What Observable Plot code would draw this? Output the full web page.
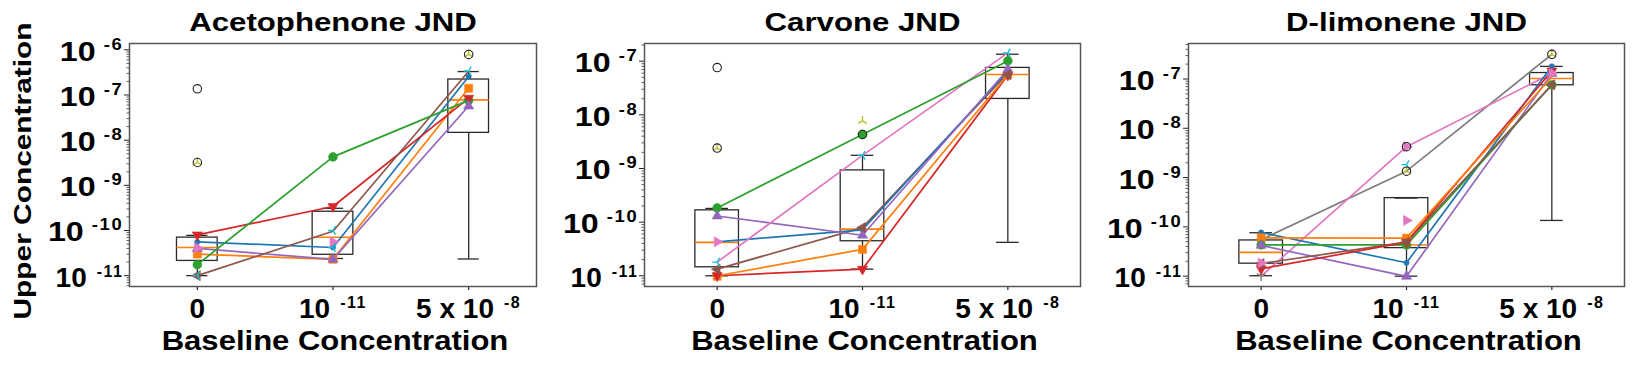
<!DOCTYPE html>
<html>
<head>
<meta charset="utf-8">
<script src="https://cdn.jsdelivr.net/npm/d3@7"></script>
<script src="https://cdn.jsdelivr.net/npm/@observablehq/plot@0.6"></script>
<style>
  body { margin: 0; background: #fff; }
  #chart { position: relative; width: 1638px; height: 370px; overflow: hidden; background: #fff; }
  #chart svg { position: absolute; top: 0; }
</style>
</head>
<body>
<div id="chart"></div>
<script>
// ---------- data ----------
const categories = [0, 1, 2];
const categoryLabels = ["0", "10^-11", "5 x 10^-8"];
const panelTitles = ["Acetophenone JND", "Carvone JND", "D-limonene JND"];
const xLabel = "Baseline Concentration";
const yLabel = "Upper Concentration";
const seriesKeys = ["S1", "S2", "S3", "S4", "S5", "S6", "S7", "S8", "S9", "S10"];

// lines: [series, value at 0, value at 1e-11, value at 5e-8]
const acetoLines = [
  ["S1", 5.6e-11, 4.2e-11, 2.57e-7],
  ["S2", 3.0e-11, 2.3e-11, 1.41e-7],
  ["S5", 4.0e-11, 2.3e-11, 5.7e-8],
  ["S4", 8.0e-11, 3.4e-10, 8.5e-8],
  ["S6", 1.0e-11, 9.6e-11, 3.36e-7],
  ["S3", 1.75e-11, 4.26e-9, 7.6e-8]
];
const carvoneLines = [
  ["S4", 1.0e-11, 1.33e-11, 5.5e-8],
  ["S2", 1.0e-11, 3.1e-11, 5.6e-8],
  ["S6", 1.33e-11, 7.9e-11, 6.0e-8],
  ["S1", 4.3e-11, 7.2e-11, 6.5e-8],
  ["S5", 1.3e-10, 5.7e-11, 7.0e-8],
  ["S7", 1.8e-11, 1.76e-9, 1.43e-7],
  ["S3", 1.84e-10, 4.3e-9, 1.01e-7]
];
const limoneneLines = [
  ["S8", 5.5e-11, 1.35e-9, 3.17e-7],
  ["S7", 1.0e-11, 4.24e-9, 1.3e-7],
  ["S1", 7.7e-11, 1.87e-11, 1.81e-7],
  ["S5", 4.2e-11, 9.9e-12, 1.29e-7],
  ["S3", 4.3e-11, 4.3e-11, 7.6e-8],
  ["S6", 1.8e-11, 4.9e-11, 7.6e-8],
  ["S4", 1.41e-11, 4.9e-11, 1.45e-7],
  ["S2", 6.0e-11, 5.9e-11, 1.1e-7]
];

// markers: [series, category index, value]
const acetoMarkers = [
  ["S4", 0, 8.0e-11], ["S1", 0, 5.6e-11], ["S5", 0, 4.0e-11], ["S7", 0, 4.1e-11],
  ["S2", 0, 3.0e-11], ["S3", 0, 1.75e-11], ["S6", 0, 1.0e-11], ["S10", 0, 1.0e-11],
  ["S9", 0, 3.2e-9],
  ["S3", 1, 4.26e-9], ["S4", 1, 3.4e-10], ["S10", 1, 1.0e-10], ["S7", 1, 5.6e-11],
  ["S1", 1, 4.2e-11], ["S10", 1, 4.2e-11], ["S2", 1, 2.3e-11], ["S5", 1, 2.3e-11],
  ["S10", 2, 3.4e-7], ["S1", 2, 2.57e-7], ["S2", 2, 1.41e-7], ["S4", 2, 8.5e-8],
  ["S3", 2, 7.6e-8], ["S5", 2, 5.7e-8], ["S9", 2, 7.9e-7]
];
const carvoneMarkers = [
  ["S3", 0, 1.84e-10], ["S5", 0, 1.3e-10], ["S7", 0, 4.3e-11], ["S10", 0, 1.8e-11],
  ["S6", 0, 1.33e-11], ["S4", 0, 1.0e-11], ["S2", 0, 9.8e-12], ["S9", 0, 2.4e-9],
  ["S9", 1, 7.7e-9], ["S3", 1, 4.3e-9], ["S10", 1, 1.76e-9], ["S6", 1, 7.9e-11],
  ["S1", 1, 7.2e-11], ["S5", 1, 5.7e-11], ["S2", 1, 3.1e-11], ["S4", 1, 1.33e-11],
  ["S10", 2, 1.43e-7], ["S3", 2, 1.01e-7], ["S5", 2, 7.0e-8], ["S1", 2, 6.5e-8],
  ["S4", 2, 5.5e-8], ["S2", 2, 5.6e-8], ["S6", 2, 5.6e-8]
];
const limoneneMarkers = [
  ["S1", 0, 7.7e-11], ["S2", 0, 6.0e-11], ["S3", 0, 4.3e-11], ["S5", 0, 4.2e-11],
  ["S7", 0, 1.85e-11], ["S6", 0, 1.8e-11], ["S4", 0, 1.41e-11], ["S8", 0, 1.0e-11],
  ["S7", 1, 4.24e-9], ["S10", 1, 1.83e-9], ["S9", 1, 1.35e-9], ["S7", 1, 1.35e-10],
  ["S2", 1, 5.9e-11], ["S4", 1, 4.9e-11], ["S6", 1, 4.9e-11], ["S3", 1, 4.3e-11],
  ["S1", 1, 1.87e-11], ["S5", 1, 9.9e-12],
  ["S9", 2, 3.17e-7], ["S1", 2, 1.81e-7], ["S4", 2, 1.45e-7], ["S5", 2, 1.29e-7],
  ["S7", 2, 1.3e-7], ["S3", 2, 7.6e-8], ["S6", 2, 7.6e-8]
];

// box summaries: [category index, lower whisker, q1, median, q3, upper whisker]
const acetoBoxes = [
  [0, 1.0e-11, 2.12e-11, 4.2e-11, 6.95e-11, 7.8e-11],
  [1, 2.4e-11, 2.9e-11, 7.1e-11, 2.6e-10, 3.1e-10],
  [2, 2.34e-11, 1.45e-8, 7.8e-8, 2.2e-7, 3.3e-7]
];
const carvoneBoxes = [
  [0, 1.0e-11, 1.44e-11, 4.2e-11, 1.66e-10, 1.8e-10],
  [1, 1.33e-11, 4.4e-11, 7.4e-11, 9.2e-10, 1.76e-9],
  [2, 4.2e-11, 1.98e-8, 5.65e-8, 7.5e-8, 1.35e-7]
];
const limoneneBoxes = [
  [0, 1.02e-11, 1.79e-11, 3.03e-11, 5.3e-11, 7.6e-11],
  [1, 1.0e-11, 3.7e-11, 4.3e-11, 3.83e-10, 3.83e-10],
  [2, 1.35e-10, 7.45e-8, 1.02e-7, 1.32e-7, 1.8e-7]
];

// outliers: [category index, value]
const acetoFliers = [[0, 1.37e-7], [0, 3.2e-9], [2, 7.9e-7]];
const carvoneFliers = [[0, 7.6e-8], [0, 2.4e-9], [1, 4.3e-9]];
const limoneneFliers = [[1, 4.24e-9], [1, 1.35e-9], [2, 3.17e-7]];

// y ticks (decades)
const acetoYTicks = [1e-6, 1e-7, 1e-8, 1e-9, 1e-10, 1e-11];
const carvoneYTicks = [1e-7, 1e-8, 1e-9, 1e-10, 1e-11];
const limoneneYTicks = [1e-7, 1e-8, 1e-9, 1e-10, 1e-11];

// ---------- styles ----------
const palette = {
  S1: "#1f77b4", S2: "#ff7f0e", S3: "#2ca02c", S4: "#d62728", S5: "#9467bd",
  S6: "#8c564b", S7: "#e377c2", S8: "#7f7f7f", S9: "#bcbd22", S10: "#17becf"
};
function poly(angles, k) {
  return { draw(ctx, size) {
    const R = Math.sqrt(size / Math.PI) * k;
    angles.forEach((a, j) => {
      const x = R * Math.sin(a * Math.PI / 180), y = -R * Math.cos(a * Math.PI / 180);
      if (j) ctx.lineTo(x, y); else ctx.moveTo(x, y);
    });
    ctx.closePath();
  }};
}
function spokes(angles, k) {
  return { draw(ctx, size) {
    const R = Math.sqrt(size / Math.PI) * k;
    angles.forEach(a => {
      ctx.moveTo(0, 0);
      ctx.lineTo(R * Math.sin(a * Math.PI / 180), -R * Math.cos(a * Math.PI / 180));
    });
  }};
}
const symbolOf = {
  S1: "circle", S2: "square", S3: "circle",
  S4: poly([180, 300, 60], 1.3), S5: poly([0, 120, 240], 1.3),
  S6: poly([270, 30, 150], 1.3), S7: poly([90, 210, 330], 1.3),
  S8: spokes([180, 60, 300], 1.1), S9: spokes([0, 120, 240], 1.1), S10: spokes([270, 30, 150], 1.1)
};
const sizeOf = { S1: 2.6, S2: 4.5, S3: 4.4, S4: 4.5, S5: 4.5, S6: 4.5, S7: 4.5, S8: 4.5, S9: 4.5, S10: 4.5 };
const strokeOnly = new Set(["S8", "S9", "S10"]);

const FONT = "'Liberation Sans', Arial, Helvetica, sans-serif";
const boxColor = "#2a2a2a";

const panels = [
  { title: panelTitles[0], lines: acetoLines, markers: acetoMarkers, boxes: acetoBoxes, fliers: acetoFliers,
    yTicks: acetoYTicks, yDomain: [10 ** -11.24, 10 ** -5.86], left: 0, width: 560, marginLeft: 129, marginRight: 24, showYLabel: true },
  { title: panelTitles[1], lines: carvoneLines, markers: carvoneMarkers, boxes: carvoneBoxes, fliers: carvoneFliers,
    yTicks: carvoneYTicks, yDomain: [10 ** -11.2, 10 ** -6.67], left: 560, width: 540, marginLeft: 84, marginRight: 20, showYLabel: false },
  { title: panelTitles[2], lines: limoneneLines, markers: limoneneMarkers, boxes: limoneneBoxes, fliers: limoneneFliers,
    yTicks: limoneneYTicks, yDomain: [10 ** -11.21, 10 ** -6.28], left: 1100, width: 538, marginLeft: 88, marginRight: 14, showYLabel: false }
];

function makePanel(cfg) {
  const [ylo, yhi] = cfg.yDomain;
  const minors = [];
  for (let e = Math.floor(Math.log10(ylo)); e <= Math.ceil(Math.log10(yhi)); e++) {
    for (let k = 2; k <= 9; k++) {
      const v = k * Math.pow(10, e);
      if (v >= ylo && v <= yhi) minors.push(v);
    }
  }
  const marks = [];
  marks.push(Plot.axisY({ ticks: minors, tickSize: 2.5, tickFormat: () => "", label: null, stroke: "#333", strokeWidth: 0.8 }));
  marks.push(Plot.axisY({ ticks: cfg.yTicks, tickSize: 5, tickFormat: () => "", label: null, stroke: "#222", strokeWidth: 1 }));
  marks.push(Plot.axisX({ ticks: categories, tickSize: 4, tickFormat: () => "", label: null, stroke: "#222", strokeWidth: 1.2 }));
  const W = 0.15, C = 0.078;
  marks.push(Plot.ruleX(cfg.boxes, { x: d => d[0], y1: d => d[1], y2: d => d[2], stroke: boxColor, strokeWidth: 1.3 }));
  marks.push(Plot.ruleX(cfg.boxes, { x: d => d[0], y1: d => d[4], y2: d => d[5], stroke: boxColor, strokeWidth: 1.3 }));
  marks.push(Plot.ruleY(cfg.boxes, { y: d => d[1], x1: d => d[0] - C, x2: d => d[0] + C, stroke: boxColor, strokeWidth: 1.3 }));
  marks.push(Plot.ruleY(cfg.boxes, { y: d => d[5], x1: d => d[0] - C, x2: d => d[0] + C, stroke: boxColor, strokeWidth: 1.3 }));
  marks.push(Plot.rect(cfg.boxes, { x1: d => d[0] - W, x2: d => d[0] + W, y1: d => d[2], y2: d => d[4], fill: "none", stroke: boxColor, strokeWidth: 1.3 }));
  marks.push(Plot.ruleY(cfg.boxes, { y: d => d[3], x1: d => d[0] - W, x2: d => d[0] + W, stroke: "#ff7f0e", strokeWidth: 1.6 }));
  for (const row of cfg.lines) {
    marks.push(Plot.line(categories, { x: d => d, y: (d, i) => row[i + 1], stroke: palette[row[0]], strokeWidth: 1.7 }));
  }
  for (const key of seriesKeys) {
    const rows = cfg.markers.filter(m => m[0] === key);
    if (!rows.length) continue;
    const opts = { x: d => d[1], y: d => d[2], symbol: symbolOf[key], r: sizeOf[key] };
    if (strokeOnly.has(key)) Object.assign(opts, { fill: "none", stroke: palette[key], strokeWidth: 1.4 });
    else Object.assign(opts, { fill: palette[key], stroke: palette[key], strokeWidth: 0.6 });
    marks.push(Plot.dot(rows, opts));
  }
  marks.push(Plot.dot(cfg.fliers, { x: d => d[0], y: d => d[1], r: 4.2, fill: "none", stroke: "#222", strokeWidth: 1.1 }));
  marks.push(Plot.frame({ stroke: "#555", strokeWidth: 1.5 }));
  // tick labels
  marks.push(Plot.text(cfg.yTicks, { y: d => d, text: d => "10^" + Math.round(Math.log10(d)), frameAnchor: "left",
    textAnchor: "end", lineAnchor: "middle", dx: -6, dy: 2, fontSize: 28, fontWeight: "bold", fill: "#000" }));
  marks.push(Plot.text(categories, { x: d => d, text: (d, i) => categoryLabels[i], frameAnchor: "bottom",
    textAnchor: "middle", lineAnchor: "middle", dy: 23, fontSize: 28, fontWeight: "bold", fill: "#000" }));
  // title and axis labels
  marks.push(Plot.text([cfg.title], { text: d => d, frameAnchor: "top", textAnchor: "middle", lineAnchor: "middle",
    dy: -20.5, fontSize: 26, fontWeight: "bold", fill: "#000" }));
  marks.push(Plot.text([xLabel], { text: d => d, frameAnchor: "bottom", textAnchor: "middle", lineAnchor: "middle",
    dx: 2, dy: 55, fontSize: 27, fontWeight: "bold", fill: "#000" }));
  if (cfg.showYLabel) {
    marks.push(Plot.text([yLabel], { text: d => d, frameAnchor: "left", rotate: -90, textAnchor: "middle", lineAnchor: "middle",
      dx: -106, dy: 6, fontSize: 24.5, fontWeight: "bold", fill: "#000" }));
  }
  const svg = Plot.plot({
    width: cfg.width, height: 370,
    marginTop: 43, marginBottom: 84, marginLeft: cfg.marginLeft, marginRight: cfg.marginRight,
    x: { domain: [-0.5, 2.5] },
    y: { type: "log", domain: cfg.yDomain },
    style: { fontFamily: FONT, background: "transparent", overflow: "visible" },
    marks
  });
  // superscripts and horizontal stretch of the heavy labels
  const NS = "http://www.w3.org/2000/svg";
  svg.querySelectorAll("text").forEach(t => {
    const s = t.textContent;
    if (s.trim() === "") return;
    let stretch = 1;
    const isXTick = categoryLabels.includes(s);
    const isYTick = !isXTick && s.startsWith("10^");
    if (panelTitles.includes(s)) stretch = 1.2;
    else if (s === xLabel) stretch = 1.15;
    else if (s === yLabel) stretch = 1.22;
    else if (isXTick) stretch = 1.0;
    else if (isYTick) stretch = 1.15;
    if (s.includes("^")) {
      const [base, exp] = s.split("^");
      t.textContent = "";
      const a = document.createElementNS(NS, "tspan");
      a.textContent = base;
      t.appendChild(a);
      const b = document.createElementNS(NS, "tspan");
      b.textContent = exp;
      b.setAttribute("font-size", "16");
      b.setAttribute("letter-spacing", "1.5");
      b.setAttribute("dx", isXTick ? "10" : "7");
      b.setAttribute("dy", isXTick ? "-10" : "-11");
      t.appendChild(b);
    }
    const tr = t.getAttribute("transform");
    if (tr && stretch !== 1) t.setAttribute("transform", tr + ` scale(${stretch},1)`);
  });
  svg.style.left = cfg.left + "px";
  return svg;
}

const chart = document.getElementById("chart");
for (const cfg of panels) chart.appendChild(makePanel(cfg));
</script>
</body>
</html>
